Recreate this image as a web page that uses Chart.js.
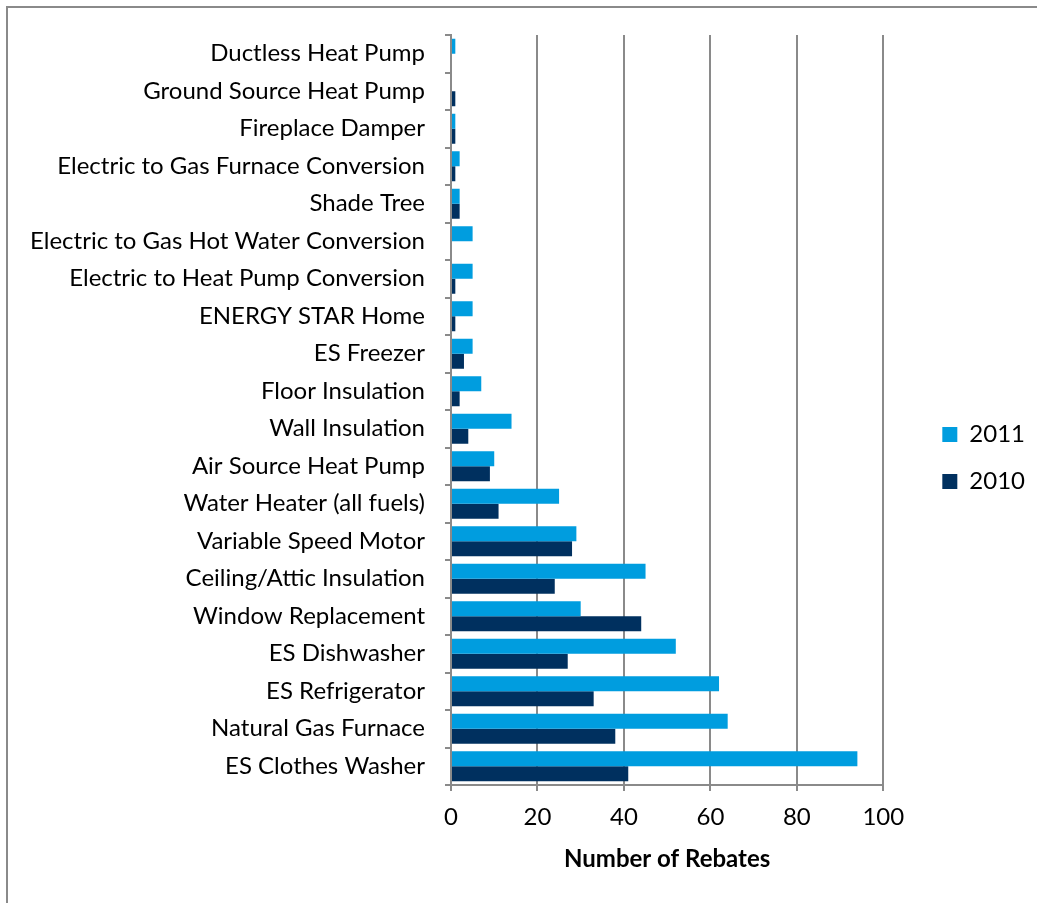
<!DOCTYPE html>
<html>
<head>
<meta charset="utf-8">
<script src="https://cdn.jsdelivr.net/npm/chart.js@4.4.1/dist/chart.umd.min.js"></script>
<style>
  html, body { margin: 0; padding: 0; background: #fff; overflow: hidden; }
  #wrap { position: absolute; left: 0; top: 0; width: 1037px; height: 903px; }
  #frame { position: absolute; left: 6px; top: 6px; width: 1100px; height: 1000px;
           border-left: 2px solid #8a8a8a; border-top: 2px solid #8a8a8a; pointer-events: none; }
  canvas { position: absolute; left: 0; top: 0; }
</style>
</head>
<body>
<div id="wrap">
  <canvas id="chart" width="1037" height="903"></canvas>
  <div id="frame"></div>
</div>
<script>
const categories = [
  'Ductless Heat Pump',
  'Ground Source Heat Pump',
  'Fireplace Damper',
  'Electric to Gas Furnace Conversion',
  'Shade Tree',
  'Electric to Gas Hot Water Conversion',
  'Electric to Heat Pump Conversion',
  'ENERGY STAR Home',
  'ES Freezer',
  'Floor Insulation',
  'Wall Insulation',
  'Air Source Heat Pump',
  'Water Heater (all fuels)',
  'Variable Speed Motor',
  'Ceiling/Attic Insulation',
  'Window Replacement',
  'ES Dishwasher',
  'ES Refrigerator',
  'Natural Gas Furnace',
  'ES Clothes Washer'
];
const rebates2011 = [1, 0, 1, 2, 2, 5, 5, 5, 5, 7, 14, 10, 25, 29, 45, 30, 52, 62, 64, 94];
const rebates2010 = [0, 1, 1, 1, 2, 0, 1, 1, 3, 2, 4, 9, 11, 28, 24, 44, 27, 33, 38, 41];
const seriesNames = ['2011', '2010'];
const xTicks = [0, 20, 40, 60, 80, 100];

const FONT = 'Lato, "Open Sans", sans-serif';
const GRID = '#8a8a8a';

// Moves the legend block to sit a little further from the plot area.
const legendOffset = {
  id: 'legendOffset',
  afterLayout(chart, args, opts) {
    const lg = chart.legend;
    if (!lg) return;
    lg.left += opts.dx; lg.right += opts.dx;
    lg.top += opts.dy; lg.bottom += opts.dy;
  }
};

new Chart(document.getElementById('chart'), {
  type: 'bar',
  data: {
    labels: categories,
    datasets: [
      { label: seriesNames[0], data: rebates2011, backgroundColor: '#009ddf',
        categoryPercentage: 0.8, barPercentage: 1.0 },
      { label: seriesNames[1], data: rebates2010, backgroundColor: '#00305f',
        categoryPercentage: 0.8, barPercentage: 1.0 }
    ]
  },
  plugins: [legendOffset],
  options: {
    indexAxis: 'y',
    responsive: false,
    animation: false,
    layout: { padding: { left: 6, top: 35, right: 38, bottom: 0 } },
    scales: {
      x: {
        min: 0, max: 100,
        afterBuildTicks: (s) => { s.ticks = xTicks.map(v => ({ value: v })); },
        afterFit: (s) => { s.height = 118; },
        ticks: { color: '#000', font: { family: FONT, size: 24 }, padding: 12 },
        grid: { color: GRID, lineWidth: 2, drawTicks: true, tickLength: 6, tickColor: GRID },
        border: { color: GRID, width: 2 },
        title: { display: true, text: 'Number of Rebates', color: '#000',
                 font: { family: FONT, size: 24, weight: 'bold' }, padding: { top: 4, bottom: 29 } }
      },
      y: {
        afterFit: (s) => { s.width = 445; },
        ticks: { color: '#000', font: { family: FONT, size: 24 }, padding: 20, autoSkip: false },
        grid: { drawOnChartArea: false, drawTicks: true, tickLength: 6, color: GRID, lineWidth: 2 },
        border: { color: GRID, width: 2 }
      }
    },
    plugins: {
      tooltip: { enabled: false },
      legendOffset: { dx: 36, dy: -11 },
      legend: {
        position: 'right',
        align: 'center',
        labels: {
          color: '#000',
          font: { family: FONT, size: 24 },
          boxWidth: 15, boxHeight: 15,
          padding: 23
        }
      }
    }
  }
});
</script>
</body>
</html>
